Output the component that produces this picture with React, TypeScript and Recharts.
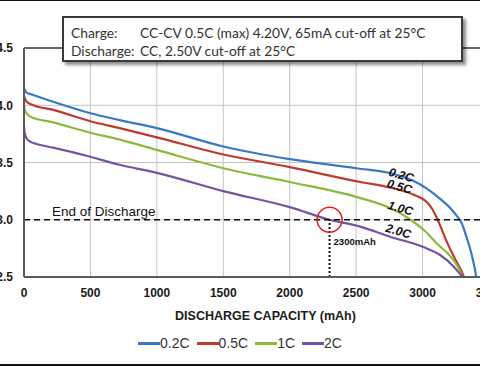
import { LineChart, Line, XAxis, YAxis, CartesianGrid, Legend, ReferenceLine, ReferenceDot } from 'recharts';

// discharge curves (capacity mAh -> voltage V)
const cap02 = [0, 20, 70, 220, 500, 720, 1000, 1500, 2000, 2500, 2780, 2930, 3035, 3135, 3210, 3260, 3290, 3336, 3373, 3392, 3404];
const volt02 = [4.15, 4.11, 4.09, 4.03, 3.93, 3.87, 3.8, 3.64, 3.53, 3.45, 3.4, 3.34, 3.27, 3.18, 3.1, 3.03, 2.98, 2.83, 2.68, 2.58, 2.5];

const cap05 = [0, 20, 70, 220, 500, 720, 1000, 1500, 2000, 2530, 2760, 2930, 3035, 3075, 3110, 3185, 3248, 3290, 3311];
const volt05 = [4.08, 4.03, 4.0, 3.96, 3.86, 3.8, 3.72, 3.57, 3.46, 3.33, 3.28, 3.22, 3.15, 3.09, 3.01, 2.8, 2.65, 2.56, 2.5];

const cap10 = [0, 5, 20, 50, 220, 500, 720, 1000, 1500, 2000, 2500, 2760, 2910, 3010, 3110, 3210, 3270, 3300];
const volt10 = [4.0, 3.96, 3.93, 3.9, 3.85, 3.76, 3.7, 3.61, 3.45, 3.33, 3.2, 3.1, 3.0, 2.91, 2.79, 2.68, 2.58, 2.5];

const cap20 = [0, 5, 20, 50, 100, 220, 500, 720, 1000, 1500, 2000, 2300, 2530, 2760, 3010, 3135, 3235, 3286, 3300];
const volt20 = [3.82, 3.76, 3.71, 3.68, 3.66, 3.63, 3.55, 3.48, 3.41, 3.25, 3.11, 3.0, 2.94, 2.85, 2.76, 2.69, 2.59, 2.52, 2.5];

const xTicks = [0, 500, 1000, 1500, 2000, 2500, 3000, 3500];
const xMinorTicks = [100, 200, 300, 400, 600, 700, 800, 900, 1100, 1200, 1300, 1400, 1600, 1700, 1800, 1900, 2100, 2200, 2300, 2400, 2600, 2700, 2800, 2900, 3100, 3200, 3300, 3400];
const yTicks = [2.5, 3.0, 3.5, 4.0, 4.5];
const yMinorTicks = [2.6, 2.7, 2.8, 2.9, 3.1, 3.2, 3.3, 3.4, 3.6, 3.7, 3.8, 3.9, 4.1, 4.2, 4.3, 4.4];

// curve name tags placed along the knee
const tagNames = ['0.2C', '0.5C', '1.0C', '2.0C'];
const tagCaps = [2839, 2826, 2833, 2818];
const tagVolts = [3.39, 3.29, 3.1, 2.9];

const cutoffVolt = 3.0;
const markCap = 2300;

const rows = (caps: number[], volts: number[]) => caps.map((c, i) => ({ c, v: volts[i] }));

const series = [
  { name: '0.2C', color: '#3a78c4', data: rows(cap02, volt02) },
  { name: '0.5C', color: '#c0392f', data: rows(cap05, volt05) },
  { name: '1C', color: '#8cb93c', data: rows(cap10, volt10) },
  { name: '2C', color: '#7454a2', data: rows(cap20, volt20) },
];

const AX = '"Liberation Sans", Arial, sans-serif';

const tagShape = (text: string) => (p: any) => (
  <text
    x={p.cx}
    y={p.cy}
    textAnchor="middle"
    dominantBaseline="central"
    transform={`rotate(16 ${p.cx} ${p.cy})`}
    style={{ fontFamily: AX, fontSize: 12, fontWeight: 700, fontStyle: 'italic', fill: '#111' }}
  >
    {text}
  </text>
);

const renderLegend = (props: any) => (
  <div style={{ display: 'flex', justifyContent: 'center', fontFamily: AX, fontSize: 14, color: '#333', lineHeight: '16px' }}>
    {(props.payload || []).map((e: any, i: number) => (
      <div key={e.value} style={{ display: 'flex', alignItems: 'center', marginLeft: i ? 7 : 0 }}>
        <span style={{ display: 'inline-block', width: 22, height: 3, background: e.color }} />
        <span>{e.value}</span>
      </div>
    ))}
  </div>
);

export default function App() {
  return (
    <div style={{ position: 'absolute', left: 0, top: 0, width: 480, height: 366, overflow: 'hidden', background: '#fff' }}>
      <div style={{ position: 'absolute', left: -40, top: 0 }}>
        <LineChart width={560} height={366} margin={{ top: 48, right: 31, left: 14, bottom: 39 }}>
          <CartesianGrid stroke="#c4c4c4" strokeWidth={1} />
          <XAxis
            xAxisId="minor"
            type="number"
            dataKey="c"
            domain={[0, 3500]}
            ticks={xMinorTicks}
            height={0}
            mirror
            tick={false}
            axisLine={false}
            tickSize={3}
            tickLine={{ stroke: '#8a8a8a' }}
          />
          <XAxis
            type="number"
            dataKey="c"
            domain={[0, 3500]}
            ticks={xTicks}
            height={50}
            tickLine={false}
            tickSize={6}
            tickMargin={5}
            axisLine={{ stroke: '#5a5a5a', strokeWidth: 2 }}
            tick={{ fontFamily: AX, fontSize: 12, fontWeight: 700, fill: '#1a1a1a' }}
            label={{
              value: 'DISCHARGE CAPACITY (mAh)',
              position: 'insideBottom',
              offset: 7,
              dx: 9,
              style: { fontFamily: AX, fontSize: 12.5, fontWeight: 700, fill: '#1a1a1a' },
            }}
          />
          <YAxis
            yAxisId="minor"
            domain={[2.5, 4.5]}
            ticks={yMinorTicks}
            width={0}
            mirror
            tick={false}
            axisLine={false}
            tickSize={3}
            tickLine={{ stroke: '#8a8a8a' }}
          />
          <YAxis
            domain={[2.5, 4.5]}
            ticks={yTicks}
            width={50}
            tickLine={false}
            tickSize={6}
            tickMargin={5}
            tickFormatter={(v: number) => v.toFixed(1)}
            axisLine={{ stroke: '#5a5a5a', strokeWidth: 2 }}
            tick={{ fontFamily: AX, fontSize: 12, fontWeight: 700, fill: '#1a1a1a' }}
          />
          <ReferenceLine y={4.5} stroke="#3c3c3c" strokeWidth={1.5} />
          {series.map((s) => (
            <Line
              key={s.name}
              data={s.data}
              dataKey="v"
              name={s.name}
              type="monotone"
              stroke={s.color}
              strokeWidth={2.2}
              dot={false}
              isAnimationActive={false}
            />
          ))}
          <ReferenceLine
            y={cutoffVolt}
            stroke="#111"
            strokeWidth={1.6}
            strokeDasharray="6 4"
            label={(p: any) => (
              <text x={p.viewBox.x + 28} y={p.viewBox.y - 4} style={{ fontFamily: AX, fontSize: 13.5, fill: '#111' }}>
                End of Discharge
              </text>
            )}
          />
          <ReferenceLine
            segment={[{ x: markCap, y: 2.5 }, { x: markCap, y: cutoffVolt }]}
            stroke="#111"
            strokeWidth={2}
            strokeDasharray="2 2"
          />
          <ReferenceDot x={markCap} y={cutoffVolt} r={12.5} fill="none" stroke="#e02020" strokeWidth={1.5} />
          <ReferenceDot
            x={markCap}
            y={2.81}
            r={0}
            shape={(p: any) => (
              <text x={p.cx + 4} y={p.cy} dominantBaseline="central" style={{ fontFamily: AX, fontSize: 9.5, fontWeight: 700, fill: '#111' }}>
                2300mAh
              </text>
            )}
          />
          {tagNames.map((t, i) => (
            <ReferenceDot key={t} x={tagCaps[i]} y={tagVolts[i]} r={0} shape={tagShape(t)} />
          ))}
          <Legend
            layout="horizontal"
            verticalAlign="middle"
            align="center"
            wrapperStyle={{ top: 335, left: 0, width: 560 }}
            content={renderLegend}
          />
        </LineChart>
      </div>
      <div
        style={{
          position: 'absolute',
          left: 62,
          top: 16,
          width: 397,
          height: 42,
          border: '2px solid #3a3a3a',
          background: '#fff',
          boxShadow: '3px 3px 3px rgba(0,0,0,0.45)',
          fontFamily: 'Lato, "Open Sans", sans-serif',
          fontSize: 13.8,
          color: '#333',
        }}
      >
        <div style={{ position: 'absolute', left: 7, top: 6, lineHeight: '18px', whiteSpace: 'nowrap' }}>
          <div>
            <span style={{ display: 'inline-block', width: 69 }}>Charge:</span>CC-CV 0.5C (max) 4.20V, 65mA cut-off at 25°C
          </div>
          <div>
            <span style={{ display: 'inline-block', width: 69 }}>Discharge:</span>CC, 2.50V cut-off at 25°C
          </div>
        </div>
      </div>
      <div style={{ position: 'absolute', left: 0, top: 0, width: 480, height: 1, background: '#111' }} />
      <div style={{ position: 'absolute', left: 0, top: 364, width: 480, height: 2, background: '#111' }} />
    </div>
  );
}
